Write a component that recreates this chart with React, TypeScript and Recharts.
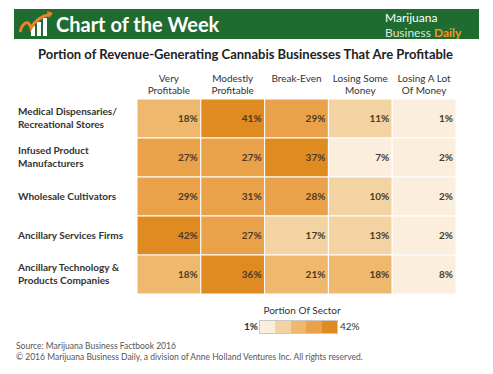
import { ScatterChart, Scatter, XAxis, YAxis } from 'recharts'

// columns of the heatmap (header lines split on \n)
const columns = ['Very\nProfitable', 'Modestly\nProfitable', 'Break-Even', 'Losing Some\nMoney', 'Losing A Lot\nOf Money']

const sectors = [
  'Medical Dispensaries/\nRecreational Stores',
  'Infused Product\nManufacturers',
  'Wholesale Cultivators',
  'Ancillary Services Firms',
  'Ancillary Technology &\nProducts Companies',
]

// % of each sector, one array per column
const veryProfitable = [18, 27, 29, 42, 18]
const modestlyProfitable = [41, 27, 31, 27, 36]
const breakEven = [29, 37, 28, 17, 21]
const losingSome = [11, 7, 10, 13, 18]
const losingALot = [1, 2, 2, 2, 8]

const scaleMin = 1
const scaleMax = 42

const series = [veryProfitable, modestlyProfitable, breakEven, losingSome, losingALot]
const cells = series.flatMap((vals, c) => vals.map((v, r) => ({ col: c, row: r, value: v })))

const BINS = ['#fbeedc', '#f4d3a3', '#eeb86e', '#eaa24a', '#e08a22']
const binColor = (v: number) => {
  const step = (scaleMax - scaleMin) / BINS.length
  return BINS[Math.min(BINS.length - 1, Math.floor((v - scaleMin) / step))]
}

const W = 493
const H = 374
const MARGIN = { top: 59, right: 37, bottom: 80, left: 18 }
const Y_AXIS_W = 119
const X_AXIS_H = 40
const PLOT_TOP = MARGIN.top + X_AXIS_H
const CELL_W = (W - MARGIN.left - MARGIN.right - Y_AXIS_W) / columns.length
const CELL_H = (H - MARGIN.top - MARGIN.bottom - X_AXIS_H) / sectors.length

const FONT = 'Lato, "Open Sans", sans-serif'

function HeaderTick({ x, payload }: any) {
  const lines = columns[payload.value].split('\n')
  return (
    <text x={x} textAnchor="middle" fontFamily={FONT} fontSize={10} fill="#333">
      {lines.map((l, i) => (
        <tspan key={i} x={x} y={PLOT_TOP - 17.5 + i * 12}>{l}</tspan>
      ))}
    </text>
  )
}

function SectorTick({ y, payload }: any) {
  const lines = sectors[payload.value].split('\n')
  const first = lines.length > 1 ? y - 4 : y + 3.5
  return (
    <text x={MARGIN.left} textAnchor="start" fontFamily={FONT} fontSize={10} fontWeight={700} fill="#333">
      {lines.map((l, i) => (
        <tspan key={i} x={MARGIN.left} y={first + i * 13.5}>{l}</tspan>
      ))}
    </text>
  )
}

function HeatCell({ cx, cy, payload }: any) {
  return (
    <g>
      <rect
        x={cx - CELL_W / 2}
        y={cy - CELL_H / 2}
        width={CELL_W}
        height={CELL_H}
        fill={binColor(payload.value)}
        stroke="#fff"
        strokeWidth={1}
      />
      <text
        x={cx + CELL_W / 2 - 3}
        y={cy + 3.5}
        textAnchor="end"
        fontFamily={FONT}
        fontSize={10}
        fontWeight={700}
        fill="#4a3b28"
      >
        {payload.value}%
      </text>
    </g>
  )
}

function Logo() {
  return (
    <svg width={36} height={26} style={{ position: 'absolute', left: 4, top: 2 }}>
      <rect x={13} y={15} width={4} height={10} fill="#fff" />
      <rect x={19} y={11} width={4} height={14} fill="#fff" />
      <rect x={25} y={7} width={4} height={18} fill="#fff" />
      <path d="M2 21 C5 10, 11 9, 13 17 C17 9, 24 5, 33 3" stroke="#e9822a" strokeWidth={3} fill="none" />
      <path d="M29 0 L35 2 L31 7 Z" fill="#e9822a" />
    </svg>
  )
}

export default function App() {
  return (
    <div style={{ position: 'absolute', left: 0, top: 0, width: W, height: H, background: '#fff', fontFamily: FONT }}>
      {/* banner */}
      <div style={{ position: 'absolute', left: 14, top: 9, width: 465, height: 30, background: '#1f6b30' }}>
        <Logo />
        <div style={{ position: 'absolute', left: 42, top: 3, color: '#fff', fontSize: 20, fontWeight: 700, lineHeight: '24px' }}>
          Chart of the Week
        </div>
        <div style={{ position: 'absolute', left: 371, top: 1, color: '#fff', fontSize: 12 }}>
          Marijuana
        </div>
        <div style={{ position: 'absolute', left: 371, top: 15.5, fontSize: 12 }}>
          <span style={{ color: '#dde6dd' }}>Business </span>
          <span style={{ color: '#f2952b', fontWeight: 700 }}>Daily</span>
        </div>
      </div>

      <div style={{ position: 'absolute', left: 0, top: 46, width: W - 2, textAlign: 'center', fontSize: 13, fontWeight: 700, color: '#222' }}>
        Portion of Revenue-Generating Cannabis Businesses That Are Profitable
      </div>

      <div style={{ position: 'absolute', left: 0, top: 0 }}>
        <ScatterChart width={W} height={H} margin={MARGIN}>
          <XAxis
            type="number"
            dataKey="col"
            orientation="top"
            domain={[-0.5, columns.length - 0.5]}
            ticks={columns.map((_, i) => i)}
            height={X_AXIS_H}
            axisLine={false}
            tickLine={false}
            tick={<HeaderTick />}
            interval={0}
          />
          <YAxis
            type="number"
            dataKey="row"
            reversed
            domain={[-0.5, sectors.length - 0.5]}
            ticks={sectors.map((_, i) => i)}
            width={Y_AXIS_W}
            axisLine={false}
            tickLine={false}
            tick={<SectorTick />}
            interval={0}
          />
          <Scatter data={cells} shape={<HeatCell />} isAnimationActive={false} />
        </ScatterChart>
      </div>

      {/* colour legend */}
      <div style={{ position: 'absolute', left: 0, top: 304, width: 604, textAlign: 'center', fontSize: 10, color: '#333' }}>
        Portion Of Sector
      </div>
      <div style={{ position: 'absolute', left: 238, top: 320, width: 20, textAlign: 'right', fontSize: 10, fontWeight: 700, color: '#333', lineHeight: '13px' }}>
        {scaleMin}%
      </div>
      <div style={{ position: 'absolute', left: 259, top: 320, height: 12, display: 'flex', border: '1px solid #c8c8c8' }}>
        {BINS.map((c) => (
          <div key={c} style={{ width: 15.4, height: 12, background: c }} />
        ))}
      </div>
      <div style={{ position: 'absolute', left: 340, top: 320, fontSize: 10, color: '#333', lineHeight: '13px' }}>
        {scaleMax}%
      </div>

      <div style={{ position: 'absolute', left: 16, top: 341, fontSize: 8.5, color: '#555', lineHeight: '11px' }}>
        Source: Marijuana Business Factbook 2016
        <br />
        © 2016 Marijuana Business Daily, a division of Anne Holland Ventures Inc. All rights reserved.
      </div>
    </div>
  )
}
